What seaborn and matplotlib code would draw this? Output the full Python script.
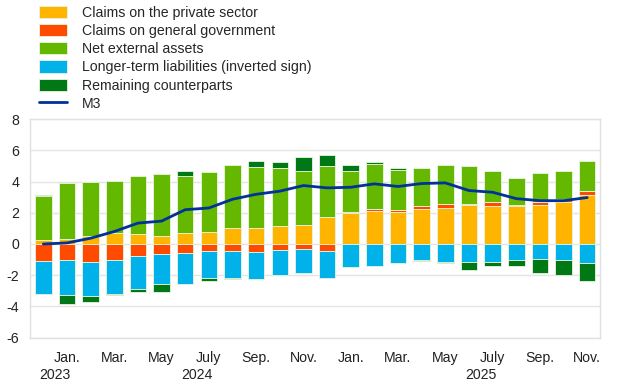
import numpy as np
import pandas as pd
import seaborn as sns
import matplotlib.pyplot as plt
from matplotlib.patches import Patch
from matplotlib.lines import Line2D
import matplotlib.transforms as mtransforms

# monthly contributions, Dec. 2023 - Nov. 2025 (percentage points)
months = pd.date_range('2023-12-01', '2025-11-01', freq='MS')
private = [0.23, 0.30, 0.52, 0.68, 0.61, 0.50, 0.70, 0.80, 1.05, 1.05, 1.14, 1.23,
           1.72, 1.98, 2.13, 2.04, 2.24, 2.32, 2.52, 2.45, 2.45, 2.50, 2.71, 3.12]
government = [-1.07, -1.00, -1.16, -1.05, -0.80, -0.62, -0.58, -0.43, -0.47, -0.52, -0.37, -0.32,
              -0.43, 0.10, 0.10, 0.17, 0.17, 0.22, 0.02, 0.22, 0.03, 0.19, 0.19, 0.28]
net_external = [2.84, 3.59, 3.48, 3.35, 3.74, 3.98, 3.66, 3.83, 4.00, 3.89, 3.74, 3.46,
                3.29, 2.58, 2.90, 2.52, 2.49, 2.54, 2.47, 2.00, 1.78, 1.87, 1.81, 1.91]
longer_term = [-2.13, -2.28, -2.17, -2.19, -2.09, -1.96, -2.00, -1.78, -1.74, -1.74, -1.63, -1.57,
               -1.76, -1.48, -1.44, -1.23, -1.03, -1.18, -1.14, -1.14, -1.05, -0.99, -1.03, -1.25]
remaining = [0.07, -0.58, -0.37, -0.06, -0.21, -0.52, 0.32, -0.17, -0.04, 0.39, 0.41, 0.88,
             0.73, 0.41, 0.13, 0.13, -0.06, -0.06, -0.52, -0.30, -0.37, -0.88, -0.97, -1.12]
m3 = [0.00, 0.07, 0.37, 0.80, 1.34, 1.47, 2.20, 2.31, 2.87, 3.19, 3.39, 3.75,
      3.60, 3.64, 3.86, 3.69, 3.88, 3.92, 3.43, 3.32, 2.91, 2.78, 2.78, 2.98]

month_labels = ['Jan.', 'Mar.', 'May', 'July', 'Sep.', 'Nov.',
                'Jan.', 'Mar.', 'May', 'July', 'Sep.', 'Nov.']
year_labels = ['2023', '2024', '2025']
year_pos = [0.5, 6.5, 18.5]

names = ['Claims on the private sector', 'Claims on general government',
         'Net external assets', 'Longer-term liabilities (inverted sign)',
         'Remaining counterparts']
colors = ['#FFB400', '#FF4B00', '#65B800', '#00B1EA', '#007816']
series = [private, government, net_external, longer_term, remaining]

sns.set_theme(style='whitegrid')
plt.rcParams['font.family'] = ['Liberation Sans', 'DejaVu Sans']
plt.rcParams['axes.unicode_minus'] = False
fs = 10.2

fig = plt.figure(figsize=(6.2, 3.87), dpi=100)
ax = fig.add_axes([0.0489, 0.1279, 0.9188, 0.5638])

x = np.arange(len(months))
pos_base = np.zeros(len(x))
neg_base = np.zeros(len(x))
for vals, col in zip(series, colors):
    v = np.array(vals)
    bottom = np.where(v >= 0, pos_base, neg_base)
    ax.bar(x, v, bottom=bottom, width=0.7, color=col, edgecolor='#eaf5e0', linewidth=0.6, zorder=2)
    pos_base = pos_base + np.clip(v, 0, None)
    neg_base = neg_base + np.clip(v, None, 0)

df_m3 = pd.DataFrame({'x': x, 'M3': m3})
sns.lineplot(data=df_m3, x='x', y='M3', color='#003299', linewidth=2, ax=ax, zorder=3)

ax.set_xlim(-0.55, 23.54)
ax.set_ylim(-6, 8)
ax.set_yticks(range(-6, 9, 2))
ax.set_xticks(np.arange(1, 24, 2))
ax.set_xticklabels(month_labels)
ax.set_xlabel('')
ax.set_ylabel('')
ax.tick_params(axis='both', length=0, labelsize=fs, colors='#222222')
ax.tick_params(axis='y', pad=8)
ax.tick_params(axis='x', pad=10)
ax.grid(axis='x', visible=False)
ax.grid(axis='y', color='#e4e4e4', linewidth=1)
for s in ax.spines.values():
    s.set_color('#e0e0e0')
    s.set_linewidth(1)

trans = mtransforms.blended_transform_factory(ax.transData, ax.transAxes)
for xp, lab in zip(year_pos, year_labels):
    ax.text(xp, -0.14, lab, transform=trans, ha='center', va='top', fontsize=fs, color='#222222')

handles = [Patch(facecolor=c, edgecolor='#eaf5e0', linewidth=0.6) for c in colors]
handles.append(Line2D([0], [0], color='#003299', linewidth=2))
fig.legend(handles, names + ['M3'], loc='upper left', bbox_to_anchor=(0.0535, 1.0),
           frameon=False, fontsize=fs, handlelength=2.0, handleheight=0.95,
           handletextpad=1.03, labelspacing=0.3, borderaxespad=0.0)

fig.savefig('out.png', dpi=100)
